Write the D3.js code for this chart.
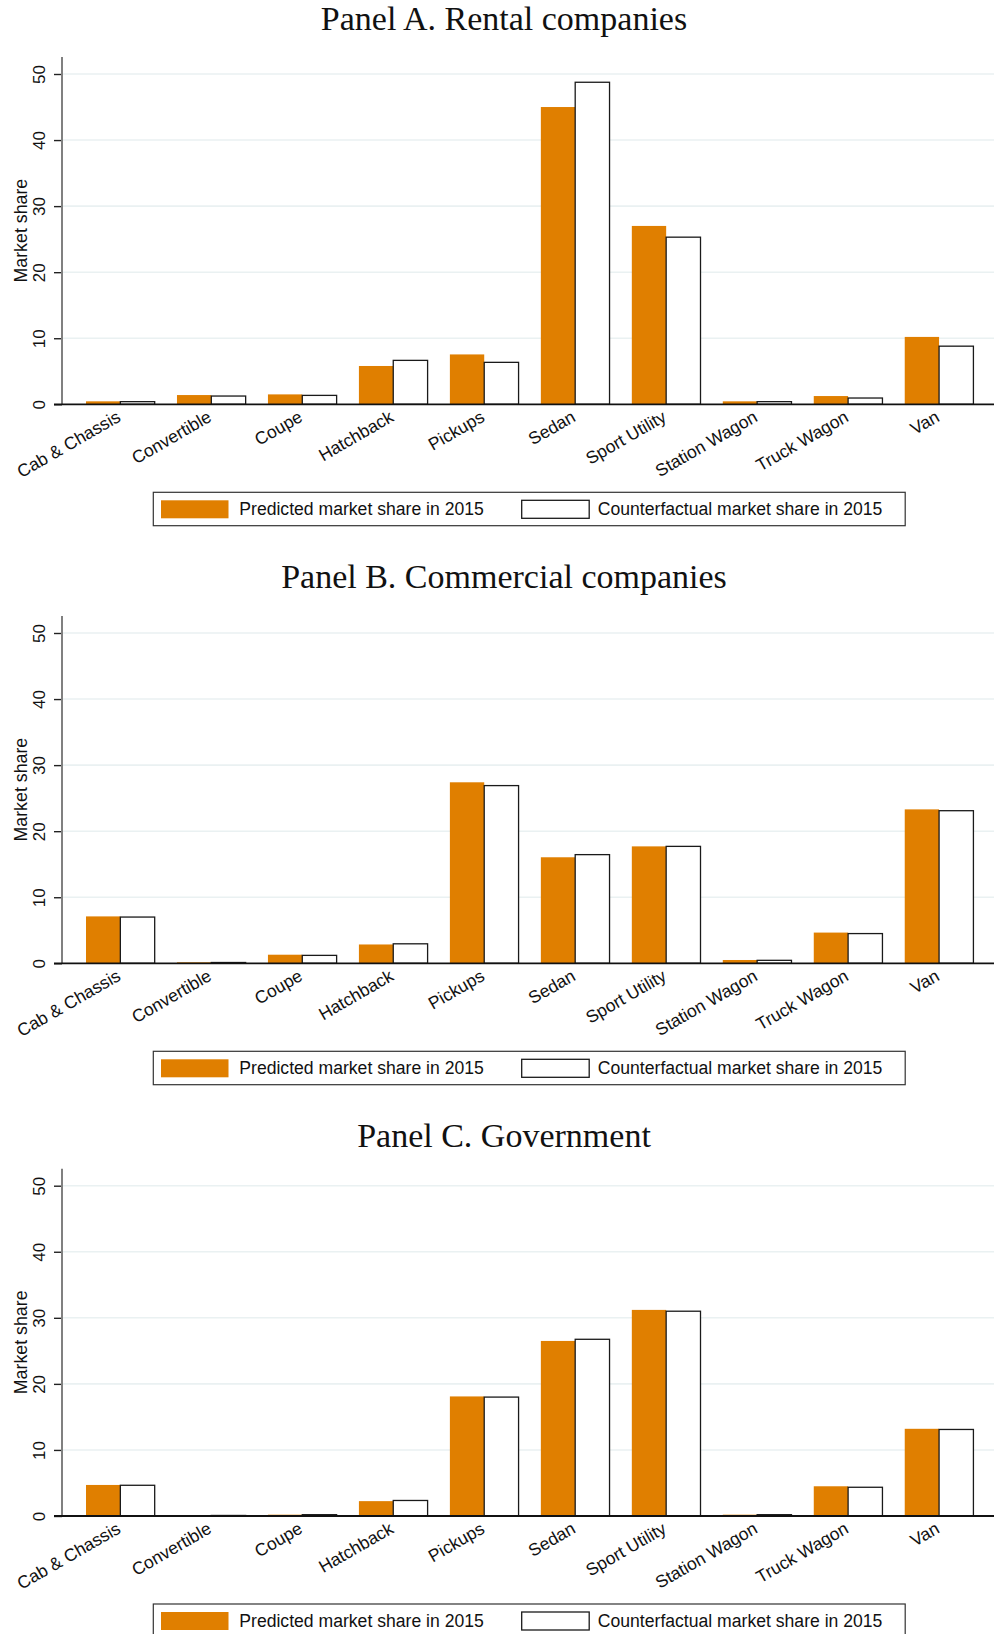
<!DOCTYPE html>
<html>
<head>
<meta charset="utf-8">
<script src="https://cdn.jsdelivr.net/npm/d3@7"></script>
<style>
  html, body { margin: 0; padding: 0; background: #fff; }
  svg { display: block; }
</style>
</head>
<body>
<div id="chart"></div>
<script>
// Vehicle body types on the x axis
const categories = ["Cab & Chassis", "Convertible", "Coupe", "Hatchback", "Pickups",
  "Sedan", "Sport Utility", "Station Wagon", "Truck Wagon", "Van"];

const panelTitles = ["Panel A. Rental companies", "Panel B. Commercial companies", "Panel C. Government"];

const seriesLabels = ["Predicted market share in 2015", "Counterfactual market share in 2015"];

// Market shares (%) by body type
const rentalPredicted       = [0.45, 1.4, 1.5, 5.8, 7.55, 45.0, 27.0, 0.45, 1.25, 10.2];
const rentalCounterfactual  = [0.4, 1.25, 1.35, 6.65, 6.35, 48.75, 25.3, 0.4, 0.95, 8.8];
const commercialPredicted      = [7.1, 0.15, 1.3, 2.85, 27.4, 16.05, 17.7, 0.5, 4.65, 23.3];
const commercialCounterfactual = [7.0, 0.12, 1.2, 2.95, 26.9, 16.45, 17.7, 0.45, 4.5, 23.1];
const governmentPredicted      = [4.7, 0.08, 0.2, 2.25, 18.1, 26.5, 31.2, 0.2, 4.5, 13.2];
const governmentCounterfactual = [4.65, 0.08, 0.2, 2.35, 18.0, 26.75, 31.0, 0.2, 4.35, 13.1];

const yTicks = [0, 10, 20, 30, 40, 50];
const yTitle = "Market share";

const panels = [
  { title: panelTitles[0], predicted: rentalPredicted, counterfactual: rentalCounterfactual },
  { title: panelTitles[1], predicted: commercialPredicted, counterfactual: commercialCounterfactual },
  { title: panelTitles[2], predicted: governmentPredicted, counterfactual: governmentCounterfactual }
];

// Layout
const W = 994, H = 1634;
const ORANGE = "#e07f00";
const sans = "'Liberation Sans', Arial, Helvetica, sans-serif";
const serif = "'Liberation Serif', 'Times New Roman', serif";

const panelOffsets = [0, 559, 1111.7];
const titleBaselines = [30, 588.3, 1146.7];

const axisX = 62;        // y-axis position
const plotTop = 57;      // top of y-axis line
const baseY = 404.3;     // zero line
const legendTop = 492.3;

const svg = d3.select("#chart").append("svg")
  .attr("width", W).attr("height", H)
  .attr("viewBox", `0 0 ${W} ${H}`);

svg.append("rect").attr("width", W).attr("height", H).attr("fill", "#fff");

const x = d3.scaleBand()
  .domain(categories)
  .range([74.86, 984.56])
  .paddingInner(0.245)
  .paddingOuter(0.1225);

const xSub = d3.scaleBand()
  .domain(["predicted", "counterfactual"])
  .range([0, x.bandwidth()]);

const y = d3.scaleLinear()
  .domain([0, 50])
  .range([baseY, baseY - 50 * 6.606]);

panels.forEach((p, i) => {
  const g = svg.append("g").attr("transform", `translate(0,${panelOffsets[i]})`);

  // title
  svg.append("text")
    .attr("x", 504)
    .attr("y", titleBaselines[i])
    .attr("text-anchor", "middle")
    .attr("font-family", serif)
    .attr("font-size", 34)
    .attr("fill", "#111")
    .text(p.title);

  // gridlines
  g.append("g").selectAll("line")
    .data(yTicks.filter(d => d > 0))
    .join("line")
    .attr("x1", axisX).attr("x2", W)
    .attr("y1", d => y(d)).attr("y2", d => y(d))
    .attr("stroke", "#eaf1f2")
    .attr("stroke-width", 1.6);

  // bars
  const rows = categories.map((c, k) => ({ cat: c, predicted: p.predicted[k], counterfactual: p.counterfactual[k] }));
  const cg = g.append("g").selectAll("g")
    .data(rows)
    .join("g")
    .attr("transform", d => `translate(${x(d.cat)},0)`);

  cg.append("rect")
    .attr("x", xSub("predicted"))
    .attr("width", xSub.bandwidth())
    .attr("y", d => y(d.predicted))
    .attr("height", d => y(0) - y(d.predicted))
    .attr("fill", ORANGE);

  cg.append("rect")
    .attr("x", xSub("counterfactual"))
    .attr("width", xSub.bandwidth())
    .attr("y", d => y(d.counterfactual))
    .attr("height", d => y(0) - y(d.counterfactual))
    .attr("fill", "#fff")
    .attr("stroke", "#1a1a1a")
    .attr("stroke-width", 1.3);

  // y axis
  const yAxis = g.append("g")
    .attr("transform", `translate(${axisX},0)`)
    .call(d3.axisLeft(y).tickValues(yTicks).tickSize(8).tickFormat(d3.format("d")));
  yAxis.select(".domain").remove();
  yAxis.selectAll(".tick line").attr("stroke", "#222").attr("stroke-width", 1.4);
  yAxis.selectAll(".tick text")
    .attr("x", null).attr("dy", null)
    .attr("text-anchor", "middle")
    .attr("transform", "translate(-17,0) rotate(-90)")
    .attr("font-family", sans)
    .attr("font-size", 17)
    .attr("fill", "#111");
  yAxis.append("line")
    .attr("x1", 0).attr("x2", 0)
    .attr("y1", plotTop).attr("y2", baseY)
    .attr("stroke", "#808080")
    .attr("stroke-width", 2);

  // x axis line
  g.append("line")
    .attr("x1", axisX - 8).attr("x2", W)
    .attr("y1", baseY).attr("y2", baseY)
    .attr("stroke", "#111")
    .attr("stroke-width", 1.8);

  // x labels
  g.append("g").selectAll("text")
    .data(categories)
    .join("text")
    .attr("transform", d => `translate(${x(d) + x.bandwidth() / 2 + 1.5},${baseY + 16}) rotate(-30)`)
    .attr("text-anchor", "end")
    .attr("font-family", sans)
    .attr("font-size", 17.5)
    .attr("fill", "#111")
    .text(d => d);

  // y title
  g.append("text")
    .attr("transform", `translate(27.3,${(plotTop + baseY) / 2}) rotate(-90)`)
    .attr("text-anchor", "middle")
    .attr("font-family", sans)
    .attr("font-size", 17.8)
    .attr("fill", "#111")
    .text(yTitle);

  // legend
  const lg = g.append("g").attr("transform", `translate(0,${legendTop})`);
  lg.append("rect")
    .attr("x", 153.3).attr("y", 0)
    .attr("width", 751.9).attr("height", 33.4)
    .attr("fill", "#fff")
    .attr("stroke", "#333")
    .attr("stroke-width", 1.2);
  const items = [
    { label: seriesLabels[0], fill: ORANGE, stroke: "none", sx: 161, tx: 239.3 },
    { label: seriesLabels[1], fill: "#fff", stroke: "#1a1a1a", sx: 521.7, tx: 597.8 }
  ];
  items.forEach(it => {
    lg.append("rect")
      .attr("x", it.sx).attr("y", 8)
      .attr("width", 67.5).attr("height", 18)
      .attr("fill", it.fill)
      .attr("stroke", it.stroke)
      .attr("stroke-width", 1.3);
    lg.append("text")
      .attr("x", it.tx).attr("y", 22.7)
      .attr("font-family", sans)
      .attr("font-size", 17.6)
      .attr("fill", "#111")
      .text(it.label);
  });
});
</script>
</body>
</html>
